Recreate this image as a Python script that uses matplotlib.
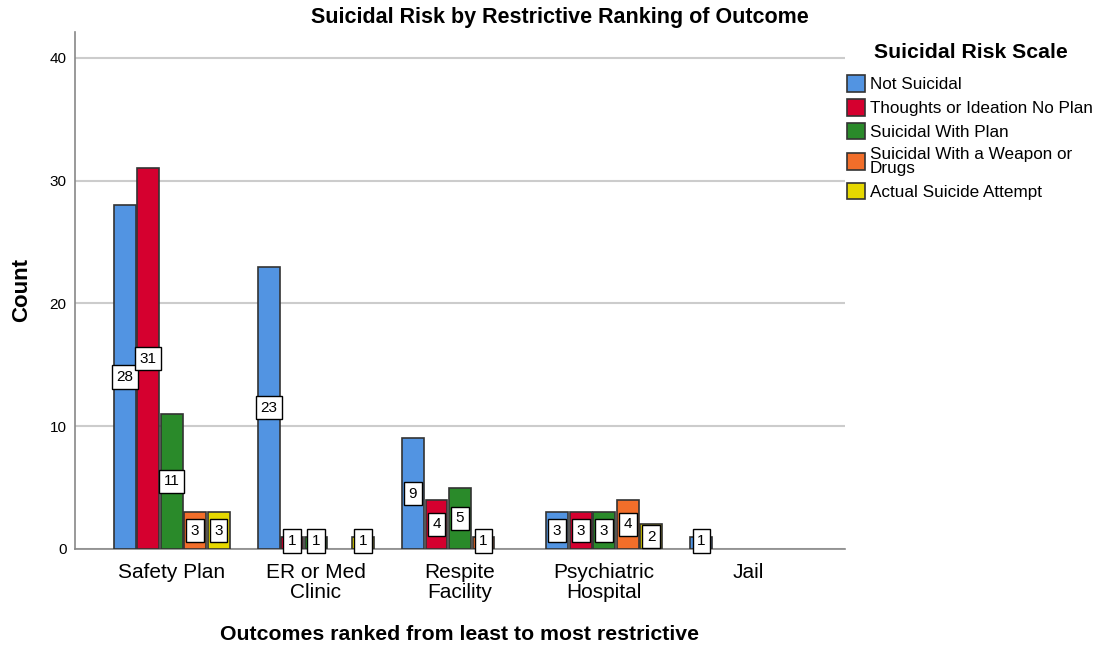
import numpy as np
import matplotlib
matplotlib.use("Agg")
import matplotlib.pyplot as plt

plt.rcParams['font.family'] = ['Liberation Sans', 'DejaVu Sans']

outcomes = ["Safety Plan", "ER or Med\nClinic", "Respite\nFacility", "Psychiatric\nHospital", "Jail"]
risk_levels = ["Not Suicidal", "Thoughts or Ideation No Plan", "Suicidal With Plan",
               "Suicidal With a Weapon or\nDrugs", "Actual Suicide Attempt"]
not_suicidal = [28, 23, 9, 3, 1]
thoughts = [31, 1, 4, 3, 0]
with_plan = [11, 1, 5, 3, 0]
weapon = [3, 0, 1, 4, 0]
attempt = [3, 1, 0, 2, 0]
colors = ["#5294e2", "#d5002f", "#2a8a2a", "#f26e2a", "#e6d800"]

series = [not_suicidal, thoughts, with_plan, weapon, attempt]

fig = plt.figure(figsize=(10.98, 6.47), dpi=100)
ax = fig.add_axes([75 / 1098, 1 - 549 / 647, 770 / 1098, 517 / 647])

x = np.arange(len(outcomes))
step = 0.163
width = 0.152
for i, (vals, col, lab) in enumerate(zip(series, colors, risk_levels)):
    pos = x + (i - 2) * step
    vals = np.array(vals)
    mask = vals > 0
    ax.bar(pos[mask], vals[mask], width=width, color=col, edgecolor="#333333",
           linewidth=1.2, label=lab, zorder=3)
    for p, v in zip(pos[mask], vals[mask]):
        ax.text(p, max(v / 2, 0.65), str(v), ha="center", va="center", fontsize=11,
                zorder=5,
                bbox=dict(boxstyle="square,pad=0.3", fc="white", ec="black", lw=1))

ax.set_xlim(-0.67, 4.67)
ax.set_ylim(0, 42.1)
ax.set_yticks([0, 10, 20, 30, 40])
ax.grid(axis="y", color="#cccccc", linewidth=1.5, zorder=0)
ax.set_xticks(x)
ax.set_xticklabels(outcomes, fontsize=15, linespacing=1.05)
ax.tick_params(axis="x", length=0, pad=10)
ax.tick_params(axis="y", length=0, labelsize=11, pad=6)
for s in ["top", "right"]:
    ax.spines[s].set_visible(False)
for s in ["left", "bottom"]:
    ax.spines[s].set_color("#888888")
    ax.spines[s].set_linewidth(1.2)

fig.text(22 / 1098, 1 - 290 / 647, "Count", rotation=90, ha="center", va="center",
         fontsize=16, fontweight="bold")
fig.text(460 / 1098, 1 - 634 / 647, "Outcomes ranked from least to most restrictive",
         ha="center", va="center", fontsize=15.3, fontweight="bold")
fig.text(560 / 1098, 1 - 17 / 647, "Suicidal Risk by Restrictive Ranking of Outcome",
         ha="center", va="center", fontsize=15.5, fontweight="bold")
fig.text(971 / 1098, 1 - 52 / 647, "Suicidal Risk Scale",
         ha="center", va="center", fontsize=15.3, fontweight="bold")

leg = fig.legend(loc="upper left", bbox_to_anchor=(844 / 1098, 1 - 72 / 647), frameon=False,
                 fontsize=12.3, handlelength=1.0, handleheight=1.1, handletextpad=0.3,
                 labelspacing=0.4, borderaxespad=0, borderpad=0.2)
for t in leg.get_texts():
    t.set_linespacing(0.9)

fig.savefig("out.png", dpi=100)
